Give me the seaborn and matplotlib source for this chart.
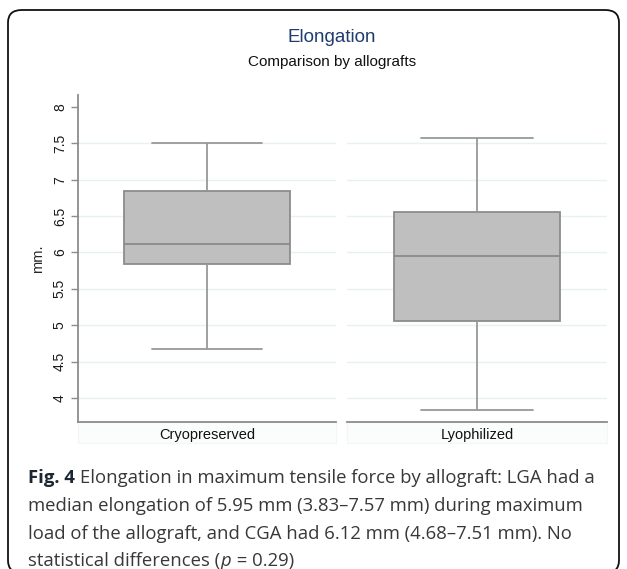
import numpy as np
import pandas as pd
import matplotlib
matplotlib.use("Agg")
import matplotlib.pyplot as plt
from matplotlib.patches import FancyBboxPatch, Rectangle
import seaborn as sns

# Five-number summaries (min, Q1, median, Q3, max)
grupos = ["Cryopreserved", "Lyophilized"]
cryo = [4.68, 5.84, 6.12, 6.85, 7.51]
lyo = [3.83, 5.06, 5.95, 6.56, 7.57]
yticks = [4, 4.5, 5, 5.5, 6, 6.5, 7, 7.5, 8]
yticklabels = ["4", "4.5", "5", "5.5", "6", "6.5", "7", "7.5", "8"]

df = pd.DataFrame({
    "grupo": [grupos[0]] * len(cryo) + [grupos[1]] * len(lyo),
    "mm": cryo + lyo,
})

sns.set_style("white")
plt.rcParams["font.family"] = ["Liberation Sans", "DejaVu Sans"]

W, H = 627, 569
fig = plt.figure(figsize=(W / 100, H / 100), dpi=100)

# rounded frame around everything (bottom edge runs just past the image)
frame = FancyBboxPatch((8 / W, -4 / H), 611 / W, 563 / H,
                       boxstyle="round,pad=0,rounding_size=0.022",
                       transform=fig.transFigure, fill=False,
                       edgecolor="#111111", linewidth=1.3, clip_on=False)
fig.patches.append(frame)

def px_axes(x0, x1, y0, y1):
    return fig.add_axes([x0 / W, 1 - y1 / H, (x1 - x0) / W, (y1 - y0) / H])

ax1 = px_axes(78, 336, 95, 422)
ax2 = px_axes(347, 607, 95, 422)

caixa = dict(facecolor="#bfbfbf", edgecolor="#8c8c8c", linewidth=1.3)
linhas = dict(color="#999999", linewidth=1.3)

for ax, g in zip([ax1, ax2], grupos):
    sub = df[df["grupo"] == g]
    sns.boxplot(data=sub, x="grupo", y="mm", ax=ax, width=0.64, whis=np.inf,
                boxprops=caixa, whiskerprops=linhas, capprops=linhas,
                medianprops=dict(color="#8a8a8a", linewidth=1.3),
                capwidths=0.43, zorder=3)
    ax.set_xlim(-0.5, 0.5)
    ax.set_ylim(3.67, 8.165)
    ax.set_yticks(yticks)
    ax.grid(axis="y", color="#e8f1f2", linewidth=1.0, zorder=0)
    ax.set_axisbelow(True)
    ax.yaxis.get_gridlines()[-1].set_visible(False)
    ax.set_xlabel("")
    ax.set_ylabel("")
    ax.tick_params(axis="x", length=0, pad=4, labelsize=10.5, labelcolor="#111111")
    for s in ["top", "right"]:
        ax.spines[s].set_visible(False)
    ax.spines["bottom"].set_color("#8c8c8c")
    ax.spines["bottom"].set_linewidth(1.3)
    # faint strip under the panel
    ax.add_patch(Rectangle((0, -0.065), 1, 0.065, transform=ax.transAxes,
                           facecolor="#fbfdfd", edgecolor="#f2f6f7",
                           linewidth=0.8, clip_on=False, zorder=0))

ax1.spines["left"].set_color("#8c8c8c")
ax1.spines["left"].set_linewidth(1.3)
ax1.set_yticklabels(yticklabels, rotation=90, va="center")
ax1.tick_params(axis="y", left=True, length=5, width=1, color="#8c8c8c",
                labelsize=10, labelcolor="#1a1a1a", pad=3)
ax1.set_ylabel("mm.", fontsize=10.5, labelpad=6)

ax2.spines["left"].set_visible(False)
ax2.tick_params(axis="y", left=False, labelleft=False)

# titles
fig.text(332 / W, 1 - 37 / H, "Elongation", ha="center", va="center",
         fontsize=13.5, color="#1f3b6f")
fig.text(332 / W, 1 - 62 / H, "Comparison by allografts", ha="center",
         va="center", fontsize=11, color="#111111")

# caption
cap = dict(family=["Open Sans", "DejaVu Sans"], fontsize=13.3, va="center")
y_linhas = [478, 506, 534, 561]
linhas_legenda = [
    "median elongation of 5.95 mm (3.83\u20137.57 mm) during maximum",
    "load of the allograft, and CGA had 6.12 mm (4.68\u20137.51 mm). No",
]
fig_lbl = fig.text(28 / W, 1 - y_linhas[0] / H, "Fig. 4", fontweight="bold",
                   color="#1d2733", **cap)
fig.canvas.draw()
bb = fig_lbl.get_window_extent()
fig.text((bb.x1 + 5) / W, 1 - y_linhas[0] / H,
         "Elongation in maximum tensile force by allograft: LGA had a",
         color="#383838", **cap)
for i, t in enumerate(linhas_legenda):
    fig.text(28 / W, 1 - y_linhas[i + 1] / H, t, color="#383838", **cap)
st = fig.text(28 / W, 1 - y_linhas[3] / H, "statistical differences (", color="#383838", **cap)
fig.canvas.draw()
bb = st.get_window_extent()
pt = fig.text(bb.x1 / W, 1 - y_linhas[3] / H, "p", style="italic", color="#383838", **cap)
fig.canvas.draw()
bb = pt.get_window_extent()
fig.text((bb.x1 + 1) / W, 1 - y_linhas[3] / H, " = 0.29)", color="#383838", **cap)

fig.savefig("out.png", dpi=100)
